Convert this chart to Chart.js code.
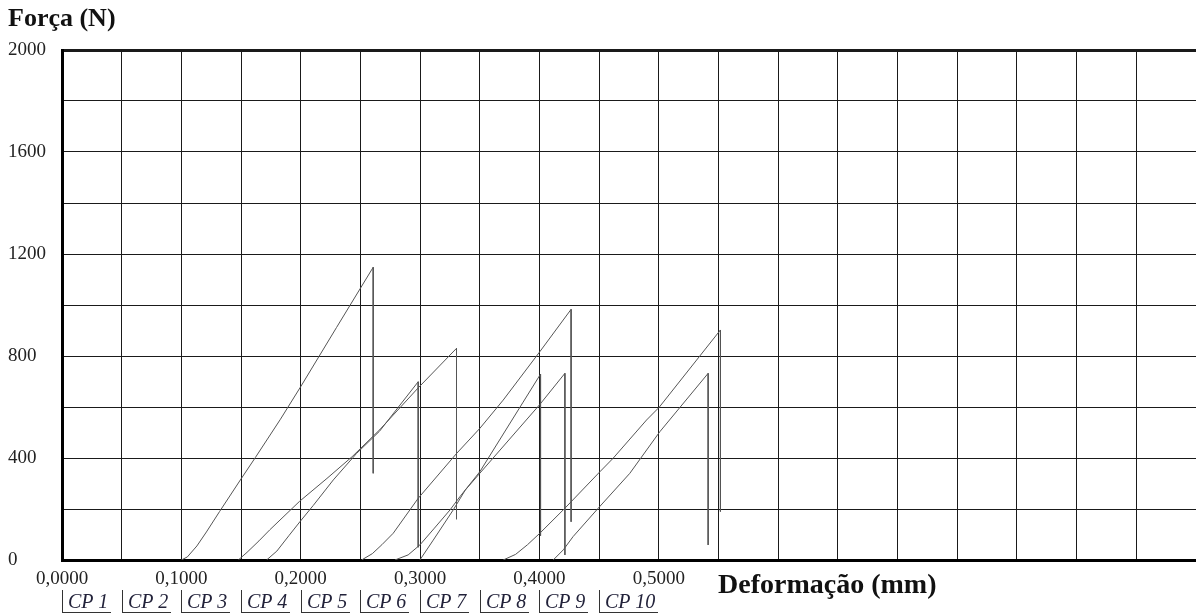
<!DOCTYPE html>
<html><head><meta charset="utf-8">
<script src="https://cdn.jsdelivr.net/npm/chart.js@4.4.1/dist/chart.umd.min.js"></script>
<style>
html,body{margin:0;padding:0;background:#fff;overflow:hidden;}
#wrap{position:relative;width:1196px;height:614px;overflow:hidden;}
#c{position:absolute;left:0;top:0;}
.t{position:absolute;font-family:'Liberation Serif','Times New Roman',serif;font-weight:bold;color:#111;white-space:nowrap;line-height:1;}
.cp{position:absolute;top:590px;height:22px;border-left:1px solid #333;border-bottom:1px solid #333;font-family:'Liberation Serif','Times New Roman',serif;font-style:italic;font-size:20px;color:#22223a;padding:0 3px 0 5px;line-height:23px;white-space:nowrap;}
</style></head>
<body><div id="wrap"><canvas id="c" width="1196" height="614"></canvas>
<div class="t" style="left:8px;top:5px;font-size:26px;">Força (N)</div>
<div class="t" style="left:718px;top:570px;font-size:28px;">Deformação (mm)</div>
<div id="legend"></div></div>
<script>
// Legend / specimen names
const specimenNames = ['CP 1','CP 2','CP 3','CP 4','CP 5','CP 6','CP 7','CP 8','CP 9','CP 10'];

// Axis ranges / ticks
const xTickStep = 0.05;
const xMin = 0, xMax = 0.95;
const yTickStep = 200;
const yMin = 0, yMax = 2000;

// Series (deformation mm, force N)
const cp1X = [0.100, 0.105, 0.113, 0.121, 0.132, 0.150, 0.162, 0.183, 0.200, 0.230, 0.2607, 0.2607];
const cp1Y = [0, 12, 55, 110, 190, 318, 402, 552, 680, 912, 1148, 340];

const cp2X = [0.1477, 0.155, 0.165, 0.174, 0.199, 0.222, 0.243, 0.266, 0.2984, 0.3305, 0.3305];
const cp2Y = [0, 30, 75, 118, 230, 320, 405, 510, 675, 830, 160];

const cp3X = [0.1714, 0.180, 0.190, 0.1993, 0.2105, 0.2273, 0.2468, 0.266, 0.2984, 0.2984];
const cp3Y = [0, 35, 95, 150, 214, 314, 418, 505, 699, 50];

const cp4X = [0.251, 0.260, 0.268, 0.2775, 0.2984, 0.3306, 0.350, 0.3696, 0.4003, 0.4265, 0.4265];
const cp4Y = [0, 25, 60, 105, 242, 418, 516, 627, 817, 983, 150];

const cp5X = [0.2789, 0.290, 0.2998, 0.312, 0.325, 0.3333, 0.350, 0.3863, 0.4009, 0.4009];
const cp5Y = [0, 20, 59, 125, 196, 248, 346, 619, 729, 95];

const cp6X = [0.2998, 0.311, 0.3277, 0.3378, 0.350, 0.4003, 0.4213, 0.4213];
const cp6Y = [0, 78, 196, 274, 340, 610, 732, 20];

const cp7X = [0.3696, 0.380, 0.390, 0.4003, 0.4213, 0.4506, 0.4617, 0.4897, 0.5003, 0.5516, 0.5516];
const cp7Y = [0, 22, 60, 105, 203, 346, 399, 549, 599, 902, 190];

const cp8X = [0.4115, 0.420, 0.4282, 0.4492, 0.4757, 0.5008, 0.5413, 0.5413];
const cp8Y = [0, 40, 92, 203, 340, 503, 732, 59];

const seriesList = [
  [specimenNames[0], cp1X, cp1Y],
  [specimenNames[1], cp2X, cp2Y],
  [specimenNames[2], cp3X, cp3Y],
  [specimenNames[3], cp4X, cp4Y],
  [specimenNames[4], cp5X, cp5Y],
  [specimenNames[5], cp6X, cp6Y],
  [specimenNames[6], cp7X, cp7Y],
  [specimenNames[7], cp8X, cp8Y]
];

const datasets = seriesList.map(([name, xs, ys]) => ({
  label: name,
  data: xs.map((x, i) => ({x: x, y: ys[i]})),
  borderColor: '#555',
  borderWidth: 1,
  pointRadius: 0,
  tension: 0,
  fill: false
}));

const serif = "'Liberation Serif','Times New Roman',serif";

const chart = new Chart(document.getElementById('c'), {
  type: 'line',
  data: { datasets },
  options: {
    responsive: false,
    animation: false,
    events: [],
    layout: { padding: { left: 8, top: 50, right: 0, bottom: 0 } },
    plugins: { legend: { display: false }, tooltip: { enabled: false }, title: { display: false } },
    scales: {
      x: {
        type: 'linear',
        min: xMin, max: xMax,
        afterFit: s => { s.height = 54; s.paddingRight = 0; s.paddingLeft = 0; },
        border: { display: true, color: '#000', width: 3 },
        grid: { color: '#1a1a1a', lineWidth: 1, drawTicks: false },
        ticks: {
          stepSize: xTickStep,
          autoSkip: false,
          maxRotation: 0,
          padding: 8,
          color: '#222',
          font: { family: serif, size: 19 },
          callback: v => {
            const k = Math.round(v * 100);
            if (k % 10 === 0 && k <= 50) return (k / 100).toFixed(4).replace('.', ',');
            return '';
          }
        }
      },
      y: {
        min: yMin, max: yMax,
        afterFit: s => { s.width = 54; },
        border: { display: true, color: '#000', width: 3 },
        grid: {
          color: '#1a1a1a',
          lineWidth: ctx => (ctx.tick && ctx.tick.value === yMax) ? 3 : 1,
          drawTicks: false
        },
        ticks: {
          stepSize: yTickStep,
          autoSkip: false,
          crossAlign: 'far',
          padding: 0,
          color: '#222',
          font: { family: serif, size: 19 },
          callback: v => (v % 400 === 0 ? String(v) : '')
        }
      }
    }
  }
});

// specimen name strip under the axis, aligned to the x scale grid
const leg = document.getElementById('legend');
specimenNames.forEach((n, i) => {
  const d = document.createElement('div');
  d.className = 'cp';
  d.textContent = n;
  d.style.left = Math.round(chart.scales.x.getPixelForValue(i * xTickStep)) + 'px';
  leg.appendChild(d);
});
</script>
</body></html>
